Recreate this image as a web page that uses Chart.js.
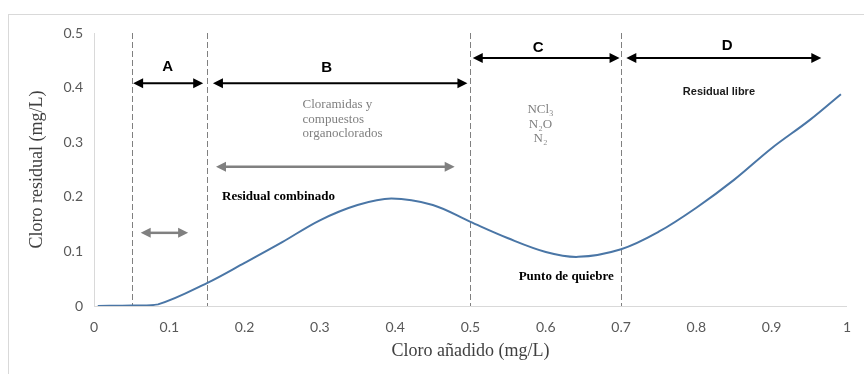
<!DOCTYPE html>
<html lang="es">
<head>
  <meta charset="UTF-8">
  <title>Cloro residual</title>
  <script src="https://cdn.jsdelivr.net/npm/chart.js"></script>
  <style>
    * {
      margin: 0;
      padding: 0;
      box-sizing: border-box;
    }
    body {
      width: 864px;
      height: 374px;
      background-color: #ffffff;
      overflow: hidden;
    }
    .frame {
      position: absolute;
      left: 8px;
      top: 14px;
      width: 856px;
      height: 360px;
      border-top: 1px solid #d9d9d9;
      border-left: 1px solid #d9d9d9;
    }
    .chart-box {
      position: absolute;
      left: 0;
      top: 0;
      width: 864px;
      height: 374px;
    }
  </style>
</head>
<body>
  <div class="frame"></div>
  <div class="chart-box">
    <canvas id="cloroChart"></canvas>
  </div>

  <script>
    // curva de cloro residual (punto de quiebre)
    const cloroAnadido = [0.005, 0.05, 0.085, 0.15, 0.2, 0.25, 0.3, 0.35, 0.395, 0.45, 0.5, 0.55, 0.6, 0.643, 0.7, 0.75, 0.8, 0.85, 0.9, 0.95, 0.992];
    const cloroResidual = [0, 0.001, 0.003, 0.042, 0.079, 0.117, 0.157, 0.185, 0.197, 0.185, 0.154, 0.124, 0.099, 0.09, 0.104, 0.136, 0.18, 0.231, 0.289, 0.34, 0.388];

    const xTicks = [0, 0.1, 0.2, 0.3, 0.4, 0.5, 0.6, 0.7, 0.8, 0.9, 1];
    const yTicks = [0, 0.1, 0.2, 0.3, 0.4, 0.5];

    // limites de zonas
    const zoneLines = [0.05, 0.15, 0.5, 0.7];

    // flechas negras: [desde, hasta, y]
    const zoneArrows = [
      [0.052, 0.145, 0.408],
      [0.158, 0.496, 0.408],
      [0.503, 0.698, 0.454],
      [0.707, 0.966, 0.454]
    ];
    const zoneLetters = [['A', 0.098, 0.438], ['B', 0.309, 0.436], ['C', 0.59, 0.472], ['D', 0.841, 0.477]];

    // flechas grises
    const grayArrows = [
      [0.062, 0.125, 0.134],
      [0.162, 0.479, 0.255]
    ];

    const pts = cloroAnadido.map((x, i) => ({ x: x, y: cloroResidual[i] }));

    function arrow(ctx, x1, x2, y, color, lw, hl, hw) {
      ctx.save();
      ctx.strokeStyle = color;
      ctx.fillStyle = color;
      ctx.lineWidth = lw;
      ctx.beginPath();
      ctx.moveTo(x1 + hl - 1, y);
      ctx.lineTo(x2 - hl + 1, y);
      ctx.stroke();
      ctx.beginPath();
      ctx.moveTo(x1, y);
      ctx.lineTo(x1 + hl, y - hw);
      ctx.lineTo(x1 + hl, y + hw);
      ctx.closePath();
      ctx.fill();
      ctx.beginPath();
      ctx.moveTo(x2, y);
      ctx.lineTo(x2 - hl, y - hw);
      ctx.lineTo(x2 - hl, y + hw);
      ctx.closePath();
      ctx.fill();
      ctx.restore();
    }

    const annotations = {
      id: 'annotations',
      beforeDatasetsDraw(chart) {
        const ctx = chart.ctx;
        const xs = chart.scales.x;
        const ys = chart.scales.y;
        ctx.save();
        ctx.strokeStyle = '#808080';
        ctx.lineWidth = 1;
        ctx.setLineDash([6, 3]);
        zoneLines.forEach(v => {
          const px = Math.round(xs.getPixelForValue(v)) + 0.5;
          ctx.beginPath();
          ctx.moveTo(px, ys.getPixelForValue(0.5));
          ctx.lineTo(px, ys.getPixelForValue(0));
          ctx.stroke();
        });
        ctx.restore();
      },
      afterDatasetsDraw(chart) {
        const ctx = chart.ctx;
        const xs = chart.scales.x;
        const ys = chart.scales.y;
        const X = v => xs.getPixelForValue(v);
        const Y = v => ys.getPixelForValue(v);

        zoneArrows.forEach(a => arrow(ctx, X(a[0]), X(a[1]), Y(a[2]), '#000000', 2, 10, 5));
        grayArrows.forEach(a => arrow(ctx, X(a[0]), X(a[1]), Y(a[2]), '#808080', 2.5, 10, 5));

        ctx.save();
        ctx.textBaseline = 'middle';
        ctx.textAlign = 'center';
        ctx.fillStyle = '#000000';
        ctx.font = 'bold 15px "Liberation Sans", Arial, sans-serif';
        zoneLetters.forEach(l => ctx.fillText(l[0], X(l[1]), Y(l[2])));

        ctx.fillStyle = '#7f7f7f';
        ctx.font = '13px "Liberation Serif", serif';
        ctx.textAlign = 'left';
        ctx.fillText('Cloramidas y', X(0.277), Y(0.368));
        ctx.fillText('compuestos', X(0.277), Y(0.342));
        ctx.fillText('organoclorados', X(0.277), Y(0.316));

        ctx.textAlign = 'center';
        ctx.fillText('NCl\u2083', X(0.593), Y(0.359));
        ctx.fillText('N\u2082O', X(0.593), Y(0.333));
        ctx.fillText('N\u2082', X(0.593), Y(0.306));

        ctx.fillStyle = '#1a1a1a';
        ctx.font = 'bold 11px "Liberation Sans", Arial, sans-serif';
        ctx.fillText('Residual libre', X(0.83), Y(0.392));

        ctx.fillStyle = '#000000';
        ctx.font = 'bold 13px "Liberation Serif", serif';
        ctx.textAlign = 'left';
        ctx.fillText('Residual combinado', X(0.17), Y(0.2));
        ctx.fillText('Punto de quiebre', X(0.564), Y(0.053));
        ctx.restore();
      }
    };

    new Chart(document.getElementById('cloroChart'), {
      type: 'scatter',
      data: {
        datasets: [{
          data: pts,
          showLine: true,
          borderColor: '#4a76a6',
          borderWidth: 2,
          pointRadius: 0,
          tension: 0.35,
          fill: false
        }]
      },
      options: {
        responsive: true,
        maintainAspectRatio: false,
        animation: false,
        layout: {
          padding: { left: 26, right: 16, top: 33, bottom: 8 }
        },
        plugins: {
          legend: { display: false },
          tooltip: { enabled: false }
        },
        scales: {
          x: {
            type: 'linear',
            min: 0,
            max: 1,
            afterBuildTicks: axis => { axis.ticks = xTicks.map(v => ({ value: v })); },
            afterFit: axis => { axis.height = 60; },
            grid: { display: false, drawTicks: false },
            border: { display: true, color: '#d9d9d9', width: 1 },
            ticks: {
              padding: 13,
              color: '#595959',
              font: { family: 'Lato, "Open Sans", sans-serif', size: 14 },
              maxRotation: 0,
              callback: v => String(v)
            },
            title: {
              display: true,
              text: 'Cloro añadido (mg/L)',
              color: '#404040',
              padding: { top: 0, bottom: 4 },
              font: { family: '"Liberation Serif", serif', size: 18 }
            }
          },
          y: {
            type: 'linear',
            min: 0,
            max: 0.5,
            afterBuildTicks: axis => { axis.ticks = yTicks.map(v => ({ value: v })); },
            afterFit: axis => { axis.width = 68; },
            grid: { display: false, drawTicks: false },
            border: { display: true, color: '#d9d9d9', width: 1 },
            ticks: {
              padding: 11,
              color: '#595959',
              font: { family: 'Lato, "Open Sans", sans-serif', size: 14 },
              callback: v => String(v)
            },
            title: {
              display: true,
              text: 'Cloro residual (mg/L)',
              color: '#404040',
              padding: 0,
              font: { family: '"Liberation Serif", serif', size: 18 }
            }
          }
        }
      },
      plugins: [annotations]
    });
  </script>
</body>
</html>
